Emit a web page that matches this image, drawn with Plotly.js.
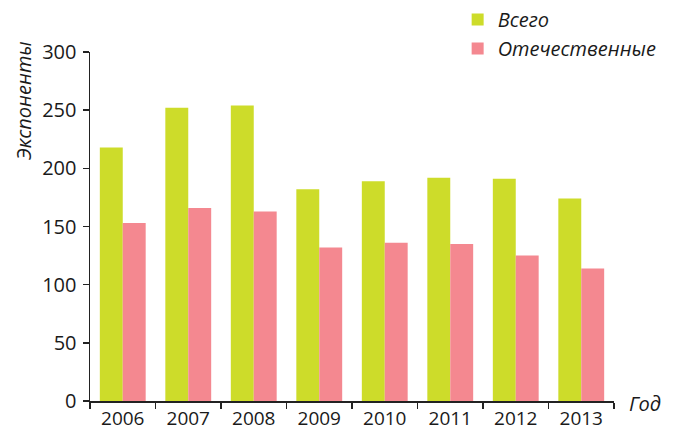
<!DOCTYPE html>
<html>
<head>
<meta charset="utf-8">
<script src="https://cdn.plot.ly/plotly-3.0.1.min.js"></script>
<style>html,body{margin:0;padding:0;background:#fff}#chart{width:674px;height:431px}</style>
</head>
<body>
<div id="chart"></div>
<script>
const years = ['2006','2007','2008','2009','2010','2011','2012','2013'];
const total = [218, 252, 254, 182, 189, 192, 191, 174];
const domestic = [153, 166, 163, 132, 136, 135, 125, 114];
const seriesNames = ['Всего', 'Отечественные'];
const yTitle = 'Экспоненты';
const xTitle = 'Год';

const FONT = 'Open Sans, Noto Sans, sans-serif';
const traces = [
  {type:'bar', x: years, y: total, name: seriesNames[0], marker:{color:'#CDDC2A'}, hoverinfo:'none'},
  {type:'bar', x: years, y: domestic, name: seriesNames[1], marker:{color:'#F48890'}, hoverinfo:'none'}
];
const layout = {
  width: 674, height: 431,
  margin: {l: 90, r: 60, t: 52, b: 30, autoexpand: false},
  paper_bgcolor: '#fff', plot_bgcolor: '#fff',
  barmode: 'group', bargap: 0.3, bargroupgap: 0,
  font: {family: FONT, color: '#1a1a1a', size: 20},
  showlegend: true,
  legend: {
    xref: 'container', yref: 'container',
    x: 0.679, y: 1.0, xanchor: 'left', yanchor: 'top',
    font: {family: FONT, size: 20, style: 'italic', color: '#1a1a1a'},
    bgcolor: 'rgba(0,0,0,0)', traceorder: 'normal'
  },
  xaxis: {
    type: 'category', showgrid: false, zeroline: false, automargin: false,
    showline: true, linecolor: '#222', linewidth: 1.5, tickangle: 0,
    ticks: 'outside', tickson: 'boundaries', ticklen: 6, tickwidth: 1.5, tickcolor: '#222',
    tickfont: {family: FONT, size: 19, color: '#1a1a1a'},
    ticklabelstandoff: 0
  },
  yaxis: {
    range: [0, 300], dtick: 50, showgrid: false, zeroline: false, automargin: false,
    showline: true, linecolor: '#222', linewidth: 1.5,
    ticks: 'outside', ticklen: 6, tickwidth: 1.5, tickcolor: '#222',
    tickfont: {family: FONT, size: 20, color: '#1a1a1a'},
    ticklabelstandoff: 2
  },
  annotations: [
    {text: yTitle, xref: 'paper', yref: 'paper', x: -0.128, y: 0.862, xanchor: 'center', yanchor: 'middle',
     textangle: -90, showarrow: false, font: {family: FONT, size: 20, style: 'italic', color: '#1a1a1a'}},
    {text: xTitle, xref: 'paper', yref: 'paper', x: 1.0586, y: -0.0066, xanchor: 'center', yanchor: 'middle',
     showarrow: false, font: {family: FONT, size: 20, style: 'italic', color: '#1a1a1a'}}
  ]
};
Plotly.newPlot('chart', traces, layout, {displayModeBar: false, staticPlot: true});
</script>
</body>
</html>
